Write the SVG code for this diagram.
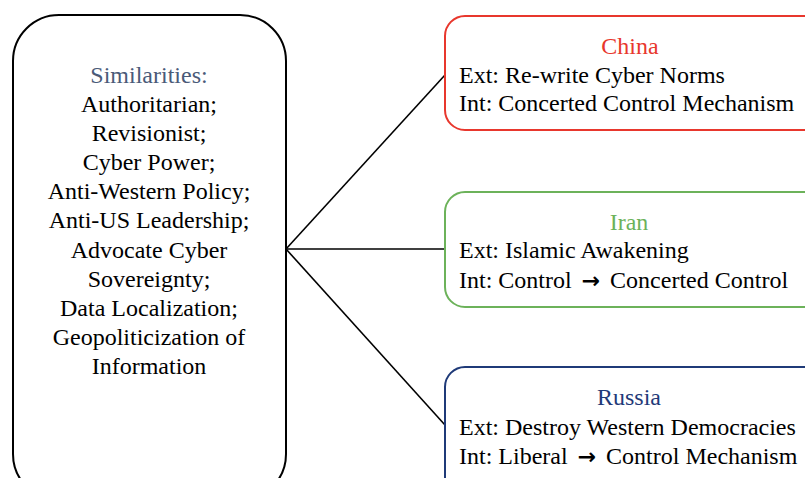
<svg xmlns="http://www.w3.org/2000/svg" width="805" height="478" viewBox="0 0 805 478">
  <style>
    text { font-family: "Liberation Serif", "Times New Roman", serif; font-size: 24px; fill: #000; }
    .c { text-anchor: middle; }
    .box { fill: #fff; stroke-width: 2; }
    .edge { stroke: #000; stroke-width: 1.6; fill: none; }
    .arr { font-family: "DejaVu Sans", sans-serif; font-weight: bold; font-size: 22px; }
  </style>
  <rect width="805" height="478" fill="#fff"/>

  <g id="connectors">
    <line class="edge" x1="286" y1="249" x2="445" y2="75"/>
    <line class="edge" x1="286" y1="249" x2="445" y2="249"/>
    <line class="edge" x1="286" y1="249" x2="445" y2="425"/>
  </g>

  <g id="similarities">
    <rect class="box" x="13" y="15" width="273" height="485" rx="46" ry="46" stroke="#000"/>
    <text class="c" x="149" y="83" style="fill:#4a5a78">Similarities:</text>
    <text class="c" x="149" y="112">Authoritarian;</text>
    <text class="c" x="149" y="141">Revisionist;</text>
    <text class="c" x="149" y="170">Cyber Power;</text>
    <text class="c" x="149" y="199">Anti-Western Policy;</text>
    <text class="c" x="149" y="228">Anti-US Leadership;</text>
    <text class="c" x="149" y="258">Advocate Cyber</text>
    <text class="c" x="149" y="287">Sovereignty;</text>
    <text class="c" x="149" y="316">Data Localization;</text>
    <text class="c" x="149" y="345">Geopoliticization of</text>
    <text class="c" x="149" y="374">Information</text>
  </g>

  <g id="china">
    <rect class="box" x="445" y="16" width="380" height="114" rx="20" ry="20" stroke="#e8372d"/>
    <text class="c" x="630" y="54" style="fill:#e8372d">China</text>
    <text x="459" y="83">Ext: Re-write Cyber Norms</text>
    <text x="459" y="111">Int: Concerted Control Mechanism</text>
  </g>

  <g id="iran">
    <rect class="box" x="445" y="192" width="380" height="115" rx="20" ry="20" stroke="#6cb25a"/>
    <text class="c" x="629" y="230" style="fill:#6cb25a">Iran</text>
    <text x="459" y="258">Ext: Islamic Awakening</text>
    <text x="459" y="288">Int: Control <tspan class="arr" dx="4">→</tspan><tspan dx="4"> Concerted Control</tspan></text>
  </g>

  <g id="russia">
    <rect class="box" x="445" y="367" width="380" height="130" rx="20" ry="20" stroke="#1f3a78"/>
    <text class="c" x="629" y="405" style="fill:#1f3a78">Russia</text>
    <text x="459" y="435">Ext: Destroy Western Democracies</text>
    <text x="459" y="464">Int: Liberal <tspan class="arr" dx="4">→</tspan><tspan dx="4"> Control Mechanism</tspan></text>
  </g>
</svg>
